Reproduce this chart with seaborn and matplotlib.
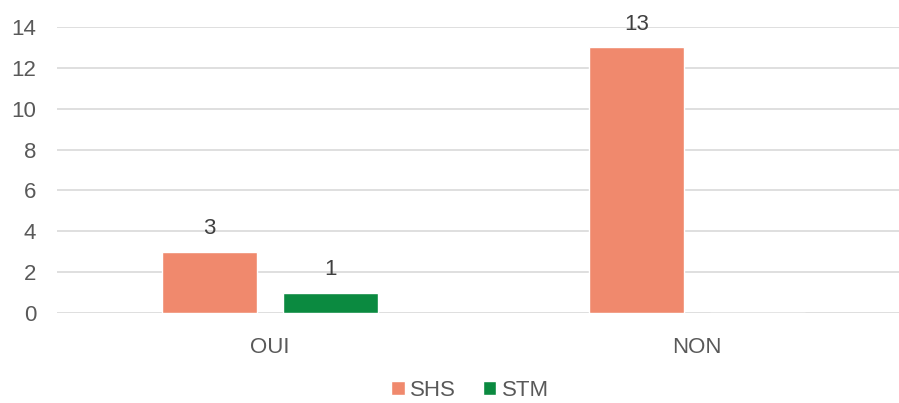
import pandas as pd
import seaborn as sns
from matplotlib import pyplot as plt

categories = ["OUI", "NON"]
series = ["SHS", "STM"]
shs_values = [3, 13]
stm_values = [1, 0]
colors = ["#F0896D", "#0B8A40"]

rows = []
for i, cat in enumerate(categories):
    rows.append({"reponse": cat, "groupe": "SHS", "n": shs_values[i]})
    rows.append({"reponse": cat, "groupe": "STM", "n": stm_values[i]})
data = pd.DataFrame(rows)

sns.set_style("white")
plt.rcParams["font.family"] = ["Liberation Sans", "DejaVu Sans"]

fig = plt.figure(figsize=(8.99, 4.03), dpi=100)
ax = fig.add_axes([57 / 899, 1 - 313 / 403, 1 - 57 / 899, (313 - 27) / 403])

sns.barplot(data=data, x="reponse", y="n", hue="groupe", hue_order=series,
            palette=colors, width=0.567, gap=0.214, ax=ax, legend=True,
            saturation=1, zorder=3)

for container in ax.containers:
    labels = [f"{v:g}" if v > 0 else "" for v in container.datavalues]
    ax.bar_label(container, labels=labels, padding=9, fontsize=16, color="#404040")

ax.set_ylim(0, 14)
ax.set_yticks(range(0, 15, 2))
ax.set_xlim(-0.499, 1.473)
ax.grid(axis="y", color="#D9D9D9", linewidth=1.2, zorder=0)
ax.set_axisbelow(True)
for side in ["top", "right", "left", "bottom"]:
    ax.spines[side].set_visible(False)
ax.set_xlabel("")
ax.set_ylabel("")
ax.tick_params(axis="both", length=0, labelsize=16, labelcolor="#595959")
ax.tick_params(axis="x", pad=17)
ax.tick_params(axis="y", pad=15)

handles, labels = ax.get_legend_handles_labels()
ax.get_legend().remove()
fig.legend(handles, labels, loc="center", bbox_to_anchor=(0.523, 0.032),
           ncol=2, frameon=False, fontsize=16, handlelength=0.6, handleheight=0.6,
           handletextpad=0.25, columnspacing=1.2, labelcolor="#595959",
           borderpad=0.1)

fig.savefig("out.png", dpi=100, facecolor="white")
